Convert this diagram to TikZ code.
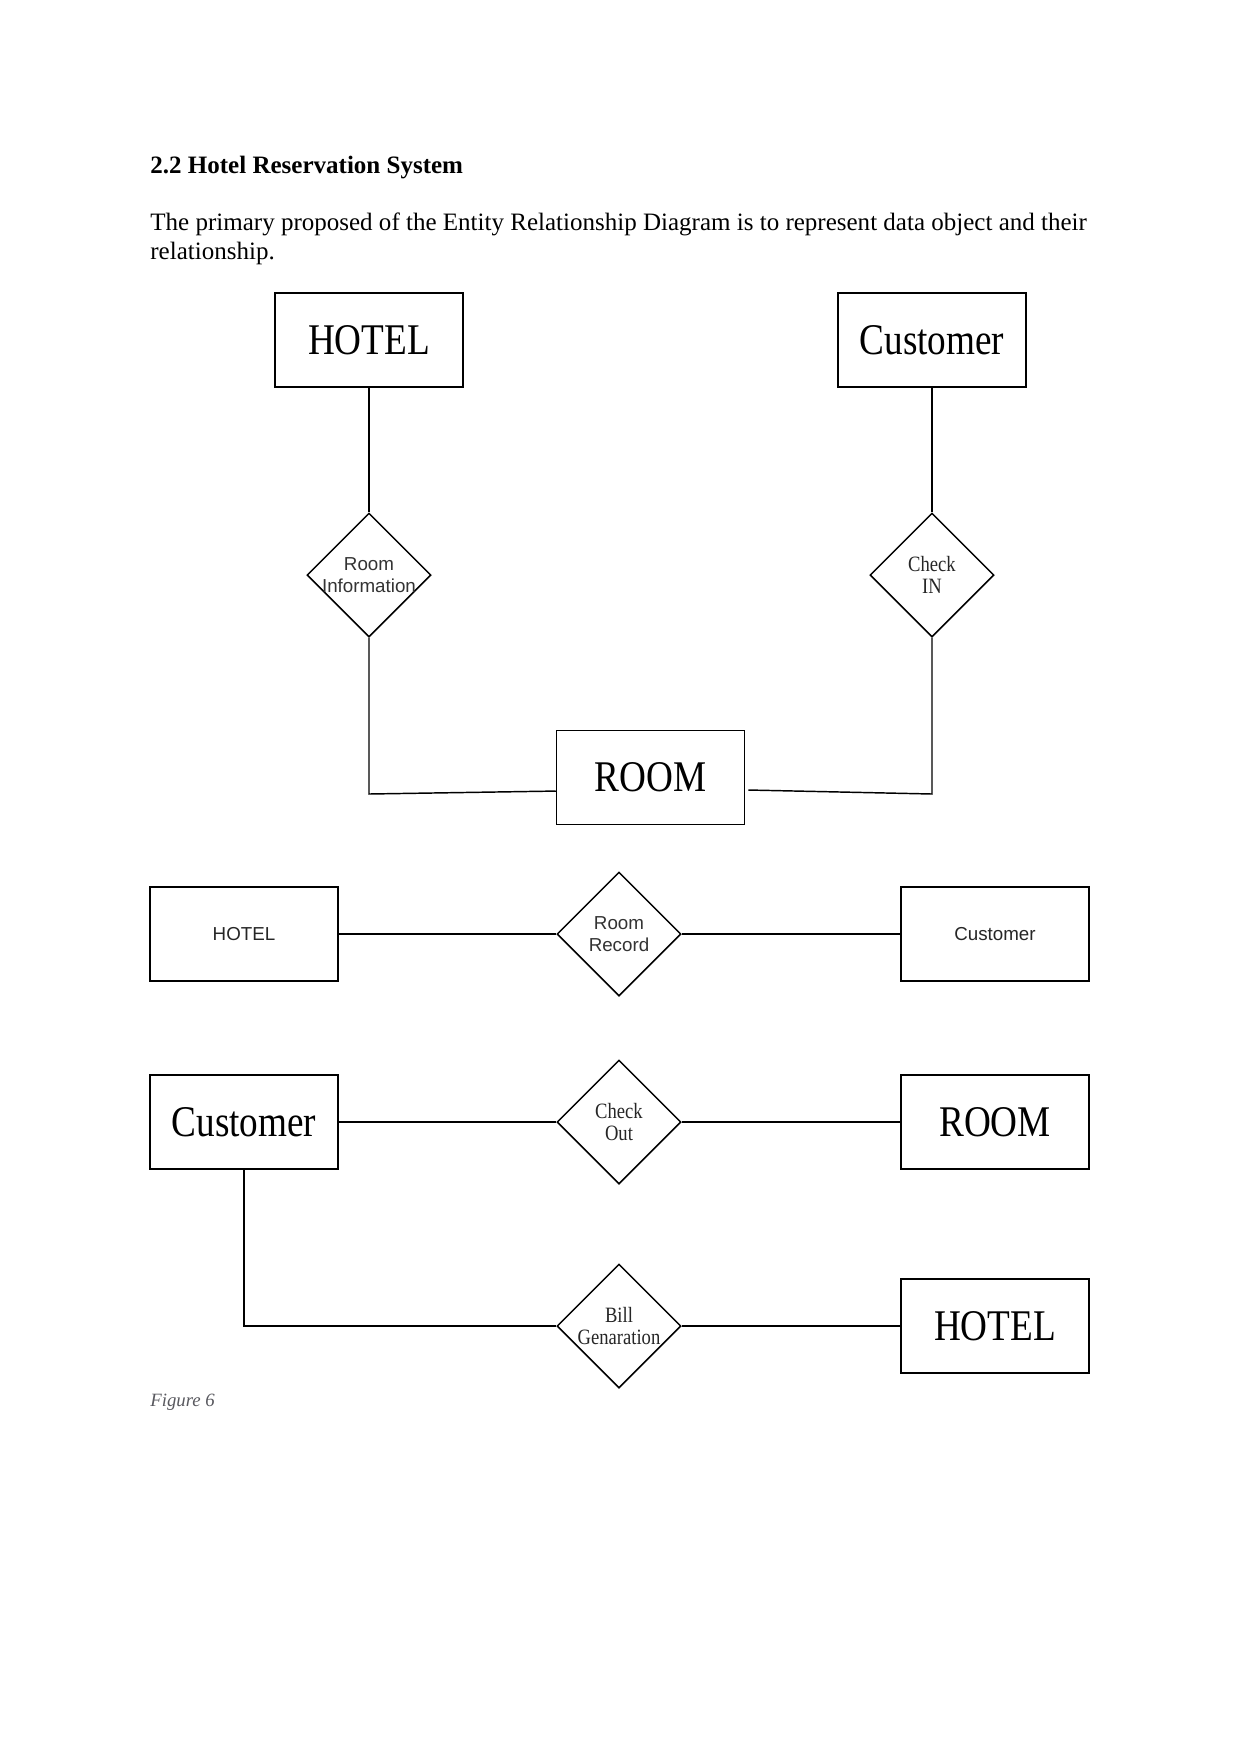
\documentclass[tikz,border=0pt]{standalone}
\usepackage{fontspec}
\setmainfont{Liberation Serif}
\newfontfamily\condserif[FakeStretch=0.85]{Liberation Serif}
\newfontfamily\labsans{Liberation Sans}
\usetikzlibrary{shapes.geometric}
\tikzset{
  entity/.style={draw, line width=0.7pt, minimum width=90.2pt, minimum height=45.1pt, inner sep=0pt,
    font=\condserif\fontsize{21}{24}\selectfont},
  entitysmall/.style={entity, font=\labsans\fontsize{9}{10}\selectfont, text=black!85},
  rel/.style={draw, diamond, aspect=1, line width=0.7pt, minimum width=59.5pt, minimum height=59.5pt, inner sep=0pt},
  relsans/.style={align=center, inner sep=0pt, text=black!80, font=\labsans\fontsize{9}{10.2}\selectfont},
  relserif/.style={align=center, inner sep=0pt, text=black!85, font=\condserif\fontsize{10.5}{10.2}\selectfont},
  conn/.style={line width=0.7pt},
  txt/.style={anchor=base west, inner sep=0pt, font=\fontsize{12}{14}\selectfont}
}
\begin{document}
\begin{tikzpicture}[x=0.47968pt, y=-0.47968pt]
\fill[white] (0,0) rectangle (1241,1754);
\useasboundingbox (0,0) rectangle (1241,1754);

% heading and paragraph
\node[txt, font=\bfseries\fontsize{12}{14}\selectfont] (title) at (150,173) {2.2 Hotel Reservation System};
\node[txt] (para1) at (150,230) {The primary proposed of the Entity Relationship Diagram is to represent data object and their};
\node[txt] (para2) at (150,259) {relationship.};

% top diagram
\node[entity] (hotel1) at (369,340) {HOTEL};
\node[entity] (cust1) at (932,340) {Customer};
\node[entity] (room1) at (650.5,777.5) {ROOM};
\node[rel] (ri) at (369,575) {};
\node[relsans] (ritxt) at (ri.center) {Room\\Information};
\node[rel] (ci) at (932,575) {};
\node[relserif] (citxt) at (ci.center) {Check\\IN};

\coordinate (c1) at (369,794);
\coordinate (c2) at (932,794);
\draw[conn] (hotel1.south) -- (ri.north);
\draw[conn] (ri.south) -- (c1) -- ([yshift=-6.5pt]room1.west);
\draw[conn] (cust1.south) -- (ci.north);
\draw[conn] (ci.south) -- (c2) -- ([xshift=1.5pt,yshift=-6pt]room1.east);

% row 2
\node[entitysmall] (hotel2) at (244,934) {HOTEL};
\node[rel] (rr) at (619,934) {};
\node[relsans] (rrtxt) at (rr.center) {Room\\Record};
\node[entitysmall] (cust2) at (995,934) {Customer};
\draw[conn] (hotel2.east) -- (rr.west);
\draw[conn] (rr.east) -- (cust2.west);

% row 3
\node[entity] (cust3) at (244,1122) {Customer};
\node[rel] (co) at (619,1122) {};
\node[relserif] (cotxt) at (co.center) {Check\\Out};
\node[entity] (room3) at (995,1122) {ROOM};
\draw[conn] (cust3.east) -- (co.west);
\draw[conn] (co.east) -- (room3.west);

% row 4
\node[rel] (bg) at (619,1326) {};
\node[relserif] (bgtxt) at (bg.center) {Bill\\Genaration};
\node[entity] (hotel4) at (995,1326) {HOTEL};
\draw[conn] (cust3.south) |- (bg.west);
\draw[conn] (bg.east) -- (hotel4.west);

% caption
\node[txt, font=\itshape\fontsize{9}{11}\selectfont, text={rgb,255:red,89;green,89;blue,95}] (fig) at (150,1406) {Figure 6};
\end{tikzpicture}
\end{document}
